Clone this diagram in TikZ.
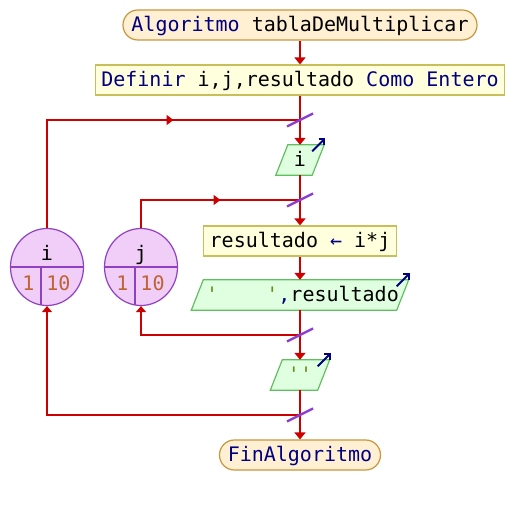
\documentclass[tikz,border=0pt]{standalone}
\usepackage{fontspec}
\setmonofont{DejaVu Sans Mono}
\usetikzlibrary{arrows.meta,calc,backgrounds,decorations.markings,shapes.geometric}

\definecolor{flowred}{RGB}{204,0,0}
\definecolor{kw}{RGB}{0,0,128}
\definecolor{pillfill}{RGB}{255,240,212}
\definecolor{pilldraw}{RGB}{200,150,60}
\definecolor{boxfill}{RGB}{255,255,221}
\definecolor{boxdraw}{RGB}{200,190,90}
\definecolor{iofill}{RGB}{224,255,224}
\definecolor{iodraw}{RGB}{96,192,96}
\definecolor{loopfill}{RGB}{240,206,248}
\definecolor{loopdraw}{RGB}{144,64,192}
\definecolor{numcol}{RGB}{190,100,50}
\definecolor{strcol}{RGB}{110,140,30}
\definecolor{joinmark}{RGB}{140,60,210}

\tikzset{
  base/.style={font=\ttfamily\fontsize{20}{24}\selectfont, inner sep=0pt,
               text height=14pt, text depth=0.6pt},
  pill/.style={base, draw=pilldraw, fill=pillfill, line width=1.2pt,
               rounded corners=14.9pt, minimum height=30pt},
  procbox/.style={base, draw=boxdraw, fill=boxfill, line width=1.2pt,
                  minimum height=30pt},
  iobox/.style={base, minimum height=30pt},
  ioshape/.style={draw=iodraw, fill=iofill, line width=1.2pt},
  loopc/.style={ellipse, draw=loopdraw, fill=loopfill, line width=1.2pt,
                minimum width=73pt, minimum height=77pt, inner sep=0pt},
  looptxt/.style={font=\ttfamily\fontsize{20}{24}\selectfont, inner sep=0pt, anchor=base},
  divider/.style={draw=loopdraw, line width=1.2pt},
  line/.style={draw=flowred, line width=2.7pt},
  flow/.style={line, -{Triangle[width=11pt,length=7pt]}},
  back/.style={line, -{Triangle[width=10pt,length=6pt]}},
  midarrow/.style={postaction={decorate}, decoration={markings,
      mark=at position 0.5 with {\arrow[flowred]{Triangle[width=10pt,length=7pt]}}}},
  slash/.style={draw=joinmark, line width=2.3pt},
  outicon/.style={draw=kw, line width=1.9pt, -{Straight Barb[length=4pt,width=8pt]}},
}

\begin{document}
\begin{tikzpicture}[x=1pt,y=-1pt]
\useasboundingbox (0,0) rectangle (514,505);

% flow steps
\node[pill, minimum width=354pt] (start) at (300,25)
  {{\color{kw}Algoritmo} tablaDeMultiplicar};
\node[procbox, minimum width=409pt] (def) at (300,80)
  {{\color{kw}Definir} i,j,resultado {\color{kw}Como Entero}};
\node[iobox, minimum width=36pt] (io1) at (300,160) {i};
\node[procbox, minimum width=193pt] (asg) at (300,241)
  {resultado {\color{kw}←} i*j};
\node[iobox, minimum width=205pt] (io2) at (300,295)
  {\hspace*{5pt}{\color{strcol}'~~~~'}{\color{kw},}resultado};
\node[iobox, minimum width=47pt] (io3) at (300,375) {{\color{strcol}''}};
\node[pill, minimum width=161pt] (fin) at (300,455)
  {{\color{kw}FinAlgoritmo}};

% loop counters
\node[loopc] (ci) at (47,267) {};
\node[loopc] (cj) at (141,267) {};
\foreach \c/\v in {ci/i, cj/j}{
  \draw[divider] (\c.west) -- (\c.east);
  \draw[divider] ($(\c.center)+(-6,0)$) -- ($(\c.center)+(-6,37.5)$);
  \node[looptxt] at ($(\c.center)+(0,-6)$) {\v};
  \node[looptxt, text=numcol] at ($(\c.center)+(-18.5,23)$) {1};
  \node[looptxt, text=numcol] at ($(\c.center)+(11.5,23)$) {10};
}

% join points on the main line
\coordinate (j1) at (300,120);
\coordinate (j2) at (300,200);
\coordinate (j3) at (300,335);
\coordinate (j4) at (300,415);

% parallelogram outlines for input/output steps
\begin{scope}[on background layer]
  \fill[white] (0,0) rectangle (514,505);
  \foreach \n in {io1,io2,io3}
    \filldraw[ioshape] ($(\n.north west)+(6,0)$) -- ($(\n.north east)+(6,0)$)
      -- ($(\n.south east)+(-6,0)$) -- ($(\n.south west)+(-6,0)$) -- cycle;
\end{scope}

% main flow
\draw[flow] (start.south) -- (def.north);
\draw[flow] (def.south) -- (io1.north);
\draw[flow] (io1.south) -- (asg.north);
\draw[flow] (asg.south) -- (io2.north);
\draw[flow] (io2.south) -- (io3.north);
\draw[flow] (io3.south) -- (fin.north);

% loop entries
\draw[line] (ci.north) |- (j1);
\draw[line, midarrow] (ci.north |- j1) -- (j1);
\draw[line] (cj.north) |- (j2);
\draw[line, midarrow] (cj.north |- j2) -- (j2);

% loop returns
\draw[back] (j3) -| (cj.south);
\draw[back] (j4) -| (ci.south);

% join marks
\foreach \j in {j1,j2,j3,j4}
  \draw[slash] ($(\j)+(-13,6.5)$) -- ($(\j)+(13,-6.5)$);

% output markers
\foreach \n in {io1,io2,io3}
  \draw[outicon] ($(\n.north east)+(-6,6.5)$) -- ($(\n.north east)+(7,-6.5)$);
\end{tikzpicture}
\end{document}
